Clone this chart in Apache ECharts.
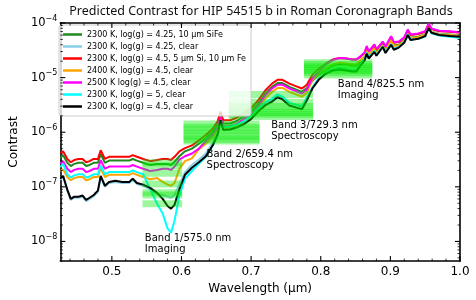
<!DOCTYPE html>
<html><head><meta charset="utf-8">
<script src="https://cdn.jsdelivr.net/npm/echarts@6/dist/echarts.min.js"></script>
<style>html,body{margin:0;padding:0;background:#fff}#c{width:476px;height:300px}</style>
</head><body><div id="c"></div>
<script>
// Wavelength grid (µm)
const wavelength = [0.426,0.430,0.436,0.441,0.446,0.452,0.458,0.463,0.468,0.474,0.480,0.484,0.490,0.496,0.505,0.515,0.525,0.530,0.536,0.545,0.555,0.565,0.573,0.580,0.585,0.590,0.597,0.605,0.615,0.625,0.635,0.645,0.652,0.656,0.660,0.670,0.680,0.690,0.700,0.710,0.720,0.730,0.738,0.745,0.755,0.765,0.773,0.780,0.788,0.797,0.807,0.817,0.827,0.837,0.845,0.851,0.857,0.863,0.866,0.869,0.877,0.880,0.889,0.893,0.901,0.905,0.912,0.920,0.925,0.929,0.940,0.950,0.955,0.959,0.970,0.985,1.000];

// log10(contrast) per model
const logGreenSiFe = [-6.47,-6.42,-6.56,-6.62,-6.58,-6.56,-6.56,-6.62,-6.60,-6.56,-6.56,-6.40,-6.56,-6.52,-6.52,-6.52,-6.52,-6.49,-6.52,-6.56,-6.60,-6.58,-6.58,-6.58,-6.60,-6.54,-6.44,-6.35,-6.30,-6.21,-6.11,-5.99,-5.86,-5.67,-5.84,-5.84,-5.79,-5.70,-5.62,-5.48,-5.30,-5.17,-5.10,-5.10,-5.17,-5.22,-5.26,-5.19,-5.06,-4.95,-4.86,-4.78,-4.75,-4.76,-4.78,-4.78,-4.73,-4.66,-4.55,-4.64,-4.45,-4.54,-4.40,-4.49,-4.30,-4.41,-4.40,-4.32,-4.18,-4.27,-4.25,-4.21,-4.07,-4.16,-4.20,-4.21,-4.23];
const logLightBlueClear425 = [-6.87,-6.82,-7.07,-7.24,-7.20,-7.20,-7.18,-7.26,-7.22,-7.17,-7.09,-6.82,-7.00,-6.93,-6.91,-6.93,-6.93,-6.87,-6.95,-6.98,-7.04,-7.13,-7.15,-7.18,-7.20,-7.15,-6.95,-6.73,-6.60,-6.50,-6.39,-6.19,-5.99,-5.73,-5.91,-5.90,-5.86,-5.80,-5.71,-5.57,-5.46,-5.39,-5.31,-5.35,-5.46,-5.50,-5.53,-5.37,-5.18,-5.02,-4.91,-4.85,-4.83,-4.85,-4.87,-4.87,-4.76,-4.67,-4.54,-4.63,-4.51,-4.58,-4.42,-4.53,-4.38,-4.47,-4.43,-4.34,-4.20,-4.29,-4.27,-4.22,-4.07,-4.16,-4.20,-4.22,-4.23];
const logRedSiFe = [-6.40,-6.35,-6.49,-6.55,-6.51,-6.49,-6.49,-6.55,-6.53,-6.49,-6.49,-6.33,-6.49,-6.45,-6.45,-6.45,-6.45,-6.42,-6.45,-6.49,-6.53,-6.51,-6.49,-6.49,-6.51,-6.45,-6.35,-6.29,-6.24,-6.15,-6.05,-5.93,-5.80,-5.62,-5.78,-5.78,-5.73,-5.64,-5.56,-5.42,-5.24,-5.11,-5.04,-5.04,-5.11,-5.16,-5.20,-5.13,-4.95,-4.84,-4.75,-4.67,-4.64,-4.65,-4.67,-4.67,-4.62,-4.55,-4.44,-4.53,-4.40,-4.49,-4.35,-4.44,-4.25,-4.36,-4.35,-4.27,-4.13,-4.22,-4.20,-4.16,-4.02,-4.11,-4.15,-4.16,-4.18];
const logOrange2400 = [-6.71,-6.68,-6.82,-6.88,-6.84,-6.82,-6.82,-6.88,-6.86,-6.82,-6.82,-6.66,-6.82,-6.78,-6.78,-6.78,-6.78,-6.75,-6.78,-6.82,-6.86,-6.84,-6.91,-6.96,-6.98,-6.93,-6.67,-6.53,-6.48,-6.31,-6.21,-6.09,-5.96,-5.78,-5.94,-5.94,-5.89,-5.80,-5.72,-5.58,-5.39,-5.26,-5.19,-5.19,-5.26,-5.31,-5.35,-5.28,-5.04,-4.93,-4.84,-4.76,-4.73,-4.74,-4.76,-4.76,-4.68,-4.61,-4.50,-4.59,-4.46,-4.55,-4.41,-4.50,-4.31,-4.42,-4.41,-4.33,-4.19,-4.28,-4.26,-4.22,-4.08,-4.17,-4.21,-4.22,-4.24];
const logMagenta2500 = [-6.58,-6.53,-6.67,-6.73,-6.69,-6.67,-6.67,-6.73,-6.71,-6.67,-6.67,-6.51,-6.67,-6.63,-6.63,-6.63,-6.63,-6.60,-6.63,-6.67,-6.71,-6.69,-6.67,-6.67,-6.69,-6.63,-6.50,-6.44,-6.39,-6.30,-6.16,-6.04,-5.91,-5.73,-5.89,-5.89,-5.84,-5.75,-5.67,-5.53,-5.33,-5.20,-5.13,-5.13,-5.20,-5.25,-5.29,-5.22,-5.01,-4.90,-4.76,-4.68,-4.64,-4.65,-4.67,-4.67,-4.61,-4.54,-4.42,-4.52,-4.39,-4.48,-4.34,-4.43,-4.24,-4.35,-4.34,-4.26,-4.12,-4.21,-4.19,-4.15,-4.01,-4.10,-4.14,-4.15,-4.17];
const logCyanLogg5 = [-6.64,-6.58,-6.77,-6.83,-6.79,-6.77,-6.77,-6.83,-6.81,-6.77,-6.77,-6.61,-6.77,-6.73,-6.73,-6.73,-6.73,-6.70,-6.73,-6.77,-7.04,-7.31,-7.49,-7.76,-7.84,-7.62,-7.16,-6.85,-6.71,-6.58,-6.45,-6.24,-6.04,-5.82,-5.91,-5.90,-5.86,-5.80,-5.71,-5.57,-5.46,-5.39,-5.31,-5.35,-5.46,-5.50,-5.53,-5.37,-5.18,-5.02,-4.91,-4.85,-4.83,-4.85,-4.87,-4.87,-4.76,-4.67,-4.54,-4.63,-4.51,-4.58,-4.43,-4.53,-4.39,-4.47,-4.44,-4.35,-4.21,-4.30,-4.29,-4.25,-4.10,-4.19,-4.23,-4.25,-4.27];
const logBlackClear45 = [-6.85,-6.80,-7.05,-7.22,-7.18,-7.18,-7.16,-7.24,-7.20,-7.15,-7.07,-6.80,-6.98,-6.91,-6.89,-6.91,-6.91,-6.85,-6.93,-6.96,-7.02,-7.11,-7.22,-7.35,-7.40,-7.33,-7.04,-6.78,-6.65,-6.55,-6.44,-6.24,-6.04,-5.78,-5.96,-5.95,-5.91,-5.85,-5.76,-5.62,-5.51,-5.44,-5.36,-5.40,-5.51,-5.55,-5.58,-5.42,-5.20,-5.04,-4.93,-4.87,-4.85,-4.87,-4.89,-4.89,-4.78,-4.69,-4.56,-4.65,-4.53,-4.60,-4.44,-4.55,-4.40,-4.49,-4.45,-4.36,-4.22,-4.31,-4.29,-4.24,-4.09,-4.18,-4.22,-4.24,-4.25];

const seriesNames = ['2300 K, log(g) = 4.25, 10 μm SiFe','2300 K, log(g) = 4.25, clear','2300 K, log(g) = 4.5, 5 μm Si, 10 μm Fe','2400 K, log(g) = 4.5, clear','2500 K log(g) = 4.5, clear','2300 K, log(g) = 5, clear','2300 K, log(g) = 4.5, clear'];
const seriesData = [logGreenSiFe, logLightBlueClear425, logRedSiFe, logOrange2400, logMagenta2500, logCyanLogg5, logBlackClear45];
const seriesColors = ['#1f8a1f','#87ceeb','#ff0000','#ffa500','#ff00ff','#00ffff','#000000'];

// Roman coronagraph bands (µm) and band-integrated log10 contrasts
const bandStart = [0.544, 0.603, 0.668, 0.776];
const bandEnd = [0.601, 0.712, 0.789, 0.874];
const band1Levels = [-6.56,-6.62,-6.75,-6.95,-7.11,-7.15,-7.31];
const band2Levels = [-5.85,-5.91,-5.96,-6.02,-6.07,-6.13,-6.16];
const band3Levels = [-5.31,-5.45,-5.53,-5.58,-5.64,-5.67,-5.71];
const band4Levels = [-4.73,-4.76,-4.80,-4.84,-4.87,-4.91,-4.95];
const bandLevels = [band1Levels, band2Levels, band3Levels, band4Levels];

const bandLabels = ['Band 1/575.0 nm\nImaging','Band 2/659.4 nm\nSpectroscopy','Band 3/729.3 nm\nSpectroscopy','Band 4/825.5 nm\nImaging'];
const bandLabelX = [0.5474, 0.636, 0.7289, 0.8246];
const bandLabelY = [-7.84, -6.31, -5.77, -5.02];

const xTickLabels = [0.5, 0.6, 0.7, 0.8, 0.9, 1.0];
const yTickExponents = [-8, -7, -6, -5, -4];

const X_MIN = 0.426, X_MAX = 1.0, Y_MIN = -8.36, Y_MAX = -4;
const FONT = 'DejaVu Sans';

const chart = echarts.init(document.getElementById('c'), null, {renderer: 'canvas'});

// tick lists
const xTicks = [];
for (let i = 22; i <= 50; i++) { const v = +(i * 0.02).toFixed(2); if (v > X_MIN && v <= X_MAX) xTicks.push([v, Math.abs(v * 10 - Math.round(v * 10)) < 1e-6 ? 1 : 0]); }
const yTicks = [];
for (let n = -9; n <= -5; n++) { for (let k = 1; k <= 9; k++) { const v = n + Math.log10(k); if (v >= Y_MIN - 1e-9 && v <= Y_MAX + 1e-9) yTicks.push([v, k === 1 ? 1 : 0]); } }
yTicks.push([-4, 1]);

const bandRects = [];
bandLevels.forEach((lv, b) => lv.forEach(v => bandRects.push([bandStart[b], bandEnd[b], v])));

const lineSeries = seriesNames.map((nm, i) => ({
  name: nm, type: 'line', symbol: 'none', showSymbol: false, z: 2,
  data: wavelength.map((w, j) => [w, seriesData[i][j]]),
  lineStyle: {color: seriesColors[i], width: 2}, itemStyle: {color: seriesColors[i]},
  emphasis: {disabled: true}
}));

chart.setOption({
  animation: false,
  title: {text: 'Predicted Contrast for HIP 54515 b in Roman Coronagraph Bands', left: 261, top: 5, textAlign: 'center', padding: 0,
    textStyle: {fontFamily: 'Noto Sans', fontSize: 12.5, fontWeight: 'normal', color: '#111'}},
  grid: {left: 58, right: 16, top: 23, bottom: 37, containLabel: false},
  legend: {data: seriesNames, orient: 'vertical', left: 59, top: 25, icon: 'rect', itemWidth: 19, itemHeight: 2.5, itemGap: 3,
    padding: [5, 5, 5, 4], backgroundColor: 'rgba(255,255,255,0.8)', borderColor: '#cccccc', borderWidth: 1, borderRadius: 3,
    textStyle: {fontFamily: FONT, fontSize: 8, color: '#000', lineHeight: 9}, selectedMode: false},
  xAxis: [{type: 'value', min: X_MIN, max: X_MAX, position: 'bottom',
    name: 'Wavelength (μm)', nameLocation: 'middle', nameGap: 18, nameTextStyle: {fontFamily: FONT, fontSize: 12, color: '#000'},
    axisLine: {show: true, lineStyle: {color: '#000', width: 1.6}}, axisTick: {show: false}, splitLine: {show: false},
    axisLabel: {customValues: xTickLabels, formatter: v => v.toFixed(1), fontFamily: FONT, fontSize: 12, color: '#000', margin: 5}},
   {type: 'value', min: X_MIN, max: X_MAX, position: 'top', axisLine: {show: true, onZero: false, lineStyle: {color: '#000', width: 1.6}},
    axisTick: {show: false}, axisLabel: {show: false}, splitLine: {show: false}}],
  yAxis: [{type: 'value', min: Y_MIN, max: Y_MAX, position: 'left',
    name: 'Contrast', nameLocation: 'middle', nameGap: 32, nameTextStyle: {fontFamily: FONT, fontSize: 12, color: '#000'},
    axisLine: {show: true, onZero: false, lineStyle: {color: '#000', width: 1.6}}, axisTick: {show: false}, splitLine: {show: false},
    axisLabel: {customValues: yTickExponents, margin: 3, formatter: v => '{b|10}{s|−' + Math.abs(Math.round(v)) + '}',
      rich: {b: {fontFamily: FONT, fontSize: 11.5, color: '#000'}, s: {fontFamily: FONT, fontSize: 8, color: '#000', padding: [0, 0, 9, 0]}}}},
   {type: 'value', min: Y_MIN, max: Y_MAX, position: 'right', axisLine: {show: true, onZero: false, lineStyle: {color: '#000', width: 1.6}},
    axisTick: {show: false}, axisLabel: {show: false}, splitLine: {show: false}}],
  series: lineSeries.concat([
    {type: 'custom', z: 3, silent: true, clip: true, data: bandRects,
     renderItem: (p, api) => {
       const a = api.coord([api.value(0), api.value(2)]);
       const b = api.coord([api.value(1), api.value(2)]);
       return {type: 'rect', shape: {x: a[0], y: a[1] - 3.5, width: b[0] - a[0], height: 7}, style: {fill: 'rgba(0,235,0,0.38)'}};
     }},
    {type: 'custom', z: 6, silent: true, data: xTicks,
     renderItem: (p, api) => {
       const v = api.value(0), len = api.value(1) === 1 ? 5 : 2.5, lw = api.value(1) === 1 ? 1.1 : 0.8;
       const b = api.coord([v, Y_MIN]), t = api.coord([v, Y_MAX]);
       return {type: 'group', children: [
         {type: 'line', shape: {x1: b[0], y1: b[1], x2: b[0], y2: b[1] - len}, style: {stroke: '#000', lineWidth: lw}},
         {type: 'line', shape: {x1: t[0], y1: t[1], x2: t[0], y2: t[1] + len}, style: {stroke: '#000', lineWidth: lw}}]};
     }},
    {type: 'custom', z: 6, silent: true, data: yTicks.map(t => [X_MIN, t[0], t[1]]),
     renderItem: (p, api) => {
       const v = api.value(1), len = api.value(2) === 1 ? 5 : 2.5, lw = api.value(2) === 1 ? 1.1 : 0.8;
       const l = api.coord([X_MIN, v]), r = api.coord([X_MAX, v]);
       return {type: 'group', children: [
         {type: 'line', shape: {x1: l[0], y1: l[1], x2: l[0] + len, y2: l[1]}, style: {stroke: '#000', lineWidth: lw}},
         {type: 'line', shape: {x1: r[0], y1: r[1], x2: r[0] - len, y2: r[1]}, style: {stroke: '#000', lineWidth: lw}}]};
     }},
    {type: 'custom', z: 7, silent: true, data: bandLabelX.map((x, i) => [x, bandLabelY[i], i]),
     renderItem: (p, api) => {
       const c = api.coord([api.value(0), api.value(1)]);
       return {type: 'text', x: c[0], y: c[1], style: {text: bandLabels[api.value(2)], fontFamily: FONT, fontSize: 10, lineHeight: 11,
         fill: '#000', textAlign: 'left', textVerticalAlign: 'top'}};
     }}
  ])
});
</script></body></html>
